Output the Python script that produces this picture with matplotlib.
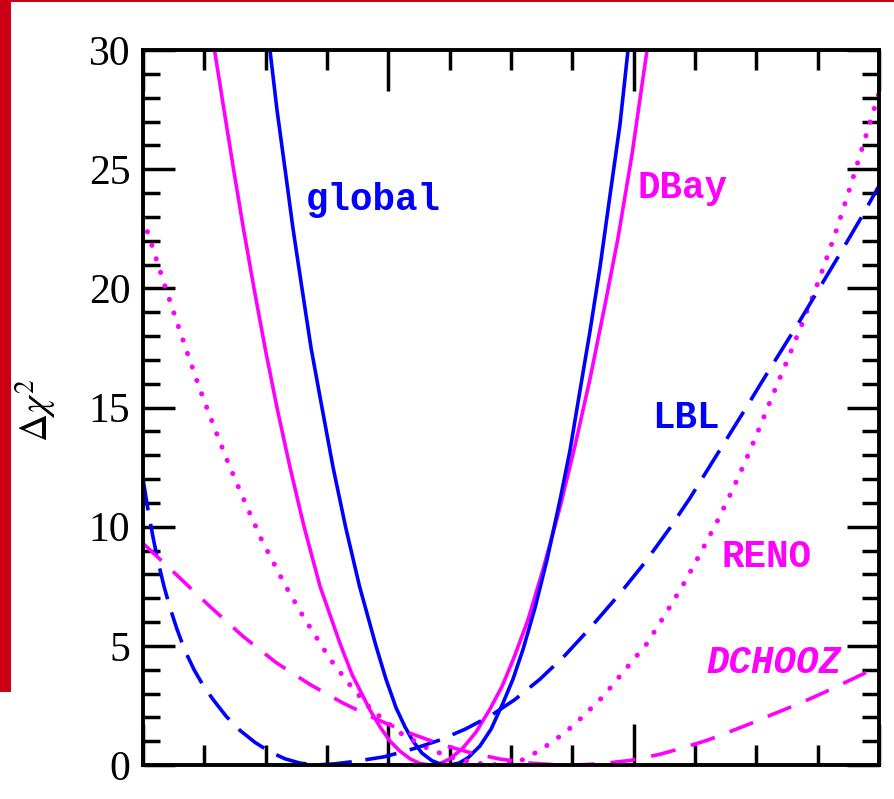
import matplotlib.pyplot as plt
from matplotlib.patches import Rectangle
from matplotlib.ticker import MultipleLocator, NullFormatter

# ==========================================
# DATA
# ==========================================
global_x = [0.01035, 0.01092, 0.01158, 0.01223, 0.01296, 0.01370, 0.01459, 0.01549,
            0.01651, 0.01765, 0.01899, 0.01981, 0.02063, 0.02136, 0.02201, 0.02274,
            0.02356, 0.02429, 0.02503, 0.02576, 0.02649, 0.02747, 0.02837, 0.02935,
            0.03016, 0.03098, 0.03196, 0.03293, 0.03399, 0.03481, 0.03562, 0.03644,
            0.03726, 0.03807, 0.03889, 0.03954]
global_y = [30.0, 27.5, 25.0, 22.5, 20.0, 17.5, 15.0, 12.5,
            10.0, 7.5, 5.0, 3.6, 2.4, 1.6, 1.0, 0.5,
            0.18, 0.03, 0.0, 0.08, 0.3, 0.8, 1.5, 2.6,
            3.6, 4.85, 6.6, 8.6, 11.1, 13.2, 15.7, 18.2,
            20.9, 23.9, 26.9, 30.0]

dbay_x = [0.00583, 0.00660, 0.00738, 0.00819, 0.00905, 0.00995, 0.01092, 0.01198,
          0.01313, 0.01443, 0.01606, 0.01704, 0.01851, 0.01932, 0.02014, 0.02095,
          0.02177, 0.02258, 0.02340, 0.02421, 0.02503, 0.02609, 0.02715, 0.02829,
          0.02927, 0.03024, 0.03139, 0.03261, 0.03399, 0.03522, 0.03644, 0.03766,
          0.03872, 0.03986, 0.04109]
dbay_y = [30.0, 27.5, 25.0, 22.5, 20.0, 17.5, 15.0, 12.5,
          10.0, 7.5, 5.1, 3.8, 2.3, 1.6, 1.0, 0.58,
          0.26, 0.06, 0.0, 0.06, 0.26, 0.72, 1.38, 2.35,
          3.3, 4.5, 6.1, 8.2, 10.8, 13.4, 16.2, 19.3,
          22.1, 25.6, 30.0]

reno_x = [0.0, 0.00041, 0.00179, 0.00269, 0.00367, 0.00465, 0.00571, 0.00677,
          0.00791, 0.00962, 0.01158, 0.01304, 0.01524, 0.01696, 0.01867, 0.02095,
          0.02299, 0.02503, 0.02707, 0.02910, 0.03033, 0.03130, 0.03253, 0.03359,
          0.03465, 0.03562, 0.03750, 0.03929, 0.04109, 0.04255, 0.04402, 0.04541,
          0.04679, 0.04802, 0.04924, 0.05030, 0.05136, 0.05258, 0.05380, 0.05503,
          0.05641, 0.05747, 0.05837, 0.05935, 0.06]
reno_y = [22.95, 22.3, 20.1, 18.7, 17.2, 15.75, 14.3, 12.9,
          11.5, 9.5, 7.55, 6.25, 4.45, 3.3, 2.3, 1.35,
          0.75, 0.33, 0.08, 0.0, 0.08, 0.3, 0.68, 1.05,
          1.47, 1.92, 2.87, 3.99, 5.1, 6.3, 7.55, 8.85,
          10.2, 11.5, 12.9, 14.2, 15.55, 17.05, 18.6, 20.25,
          22.25, 23.95, 25.45, 27.1, 28.2]

lbl_x = [0.0, 0.00041, 0.00082, 0.00122, 0.00171, 0.00220, 0.00277, 0.00342,
         0.00416, 0.00489, 0.00571, 0.00677, 0.00791, 0.00913, 0.01035, 0.01158,
         0.01280, 0.01402, 0.01565, 0.01728, 0.01973, 0.02217, 0.02421, 0.02625,
         0.02829, 0.03033, 0.03236, 0.03440, 0.03644, 0.03889, 0.04092, 0.04296,
         0.04459, 0.04622, 0.04785, 0.04924, 0.05054, 0.05193, 0.05356, 0.05519,
         0.05682, 0.05845, 0.06]
lbl_y = [12.0, 10.7, 9.55, 8.55, 7.5, 6.6, 5.7, 4.8,
         4.0, 3.35, 2.75, 2.05, 1.45, 0.95, 0.55, 0.26,
         0.08, 0.0, 0.05, 0.15, 0.35, 0.7, 1.05, 1.5,
         2.05, 2.75, 3.6, 4.6, 5.74, 7.2, 8.5, 9.95,
         11.2, 12.55, 13.9, 15.05, 16.15, 17.3, 18.65, 20.05,
         21.45, 22.88, 24.3]

dchooz_x = [0.0, 0.00269, 0.00546, 0.00815, 0.01084, 0.01361, 0.01630, 0.01899,
            0.02177, 0.02421, 0.02666, 0.02910, 0.03155, 0.03359, 0.03522, 0.03726,
            0.03970, 0.04215, 0.04402, 0.04606, 0.04810, 0.04973, 0.05111, 0.05274,
            0.05421, 0.05576, 0.05723, 0.05870, 0.06]
dchooz_y = [9.3, 8.0, 6.65, 5.4, 4.3, 3.38, 2.6, 1.93,
            1.33, 0.88, 0.52, 0.25, 0.08, 0.01, 0.0, 0.05,
            0.19, 0.45, 0.72, 1.05, 1.45, 1.78, 2.08, 2.42,
            2.74, 3.1, 3.46, 3.82, 4.15]

y_ticks = [0, 5, 10, 15, 20, 25, 30]

# ==========================================
# STYLE
# ==========================================
BLUE = '#0000ff'
MAGENTA = '#ff00ff'
RED = '#cc0014'
LW = 2.6

plt.rcParams['mathtext.fontset'] = 'stix'

fig = plt.figure(figsize=(8.95, 7.99), dpi=100, facecolor='white')
ax = fig.add_axes([143 / 895, 34 / 799, 736 / 895, 715 / 799])

# curves
ax.plot(dbay_x, dbay_y, color=MAGENTA, lw=LW, solid_joinstyle='round')
ax.plot(global_x, global_y, color=BLUE, lw=LW, solid_joinstyle='round')
ax.plot(reno_x, reno_y, color=MAGENTA, lw=3.6, linestyle=(0, (0.05, 2.8)),
        dash_capstyle='round')
ax.plot(lbl_x, lbl_y, color=BLUE, lw=LW, linestyle=(0, (8.8, 3.8)))
ax.plot(dchooz_x, dchooz_y, color=MAGENTA, lw=LW, linestyle=(0, (7.0, 4.4)))

# labels on the curves
mono = dict(family='Liberation Mono', weight='bold', fontsize=27)
ax.text(0.0133, 23.3, 'global', color=BLUE, **mono)
ax.text(0.0403, 23.8, 'DBay', color=MAGENTA, **mono)
ax.text(0.0415, 14.15, 'LBL', color=BLUE, **mono)
ax.text(0.0472, 8.3, 'RENO', color=MAGENTA, **mono)
ax.text(0.0459, 3.85, 'DCHOOZ', color=MAGENTA, style='italic', **mono)

# axes
ax.set_xlim(0, 0.06)
ax.set_ylim(0, 30)
ax.xaxis.set_major_locator(MultipleLocator(0.02))
ax.xaxis.set_minor_locator(MultipleLocator(0.005))
ax.xaxis.set_major_formatter(NullFormatter())
ax.set_yticks(y_ticks)
ax.yaxis.set_minor_locator(MultipleLocator(1))

for sp in ax.spines.values():
    sp.set_linewidth(2.8)

ax.tick_params(axis='x', which='major', direction='in', length=29.5, width=2.5,
               top=True, bottom=True)
ax.tick_params(axis='x', which='minor', direction='in', length=14.4, width=2.5,
               top=True, bottom=True)
ax.tick_params(axis='y', which='major', direction='in', length=23, width=2.5,
               left=True, right=True, pad=9)
ax.tick_params(axis='y', which='minor', direction='in', length=12.2, width=2.5,
               left=True, right=True)
for lab in ax.get_yticklabels():
    lab.set_family('Liberation Serif')
    lab.set_fontsize(30)

fig.text(36 / 895, 1 - 410 / 799, r'$\Delta\chi^2$', rotation=90, fontsize=28,
         ha='center', va='center')

# red frame pieces from the slide
fig.add_artist(Rectangle((0, 1 - 692 / 799), 11 / 895, 692 / 799,
                         transform=fig.transFigure, color=RED, lw=0))
fig.add_artist(Rectangle((0, 1 - 2 / 799), 1, 2 / 799,
                         transform=fig.transFigure, color=RED, lw=0))

fig.savefig('out.png', dpi=100)
